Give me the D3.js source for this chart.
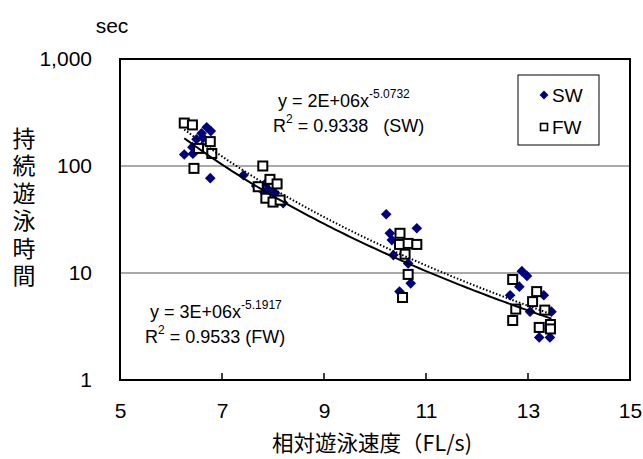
<!DOCTYPE html>
<html>
<head>
<meta charset="utf-8">
<script src="https://cdn.jsdelivr.net/npm/d3@7"></script>
<style>
  body { margin: 0; background: #fff; }
  svg text { font-family: "Liberation Sans", Arial, sans-serif; fill: #000; }
  .cjk { font-family: "Noto Sans CJK JP", "Noto Sans CJK SC", sans-serif; }
</style>
</head>
<body>
<svg id="chart" width="643" height="459"></svg>
<script>
// Relative swimming speed (FL/s) vs. endurance time (sec), SW and FW groups
const swSpeed = [6.26, 6.42, 6.50, 6.60, 6.63, 6.70, 6.78, 6.43, 6.77, 7.42,
                 7.67, 7.81, 7.86, 7.91, 8.04, 8.20,
                 10.22, 10.82, 10.29, 10.33, 10.53, 10.36, 10.65, 10.70, 10.48,
                 12.88, 12.98, 12.83, 12.65, 13.31, 13.04, 13.46, 13.22, 13.22, 13.43];
const swTime  = [128, 150, 178, 202, 183, 230, 212, 130, 77, 82,
                 65, 58, 69, 60, 56, 45,
                 35.4, 26.2, 23.5, 20.3, 18.7, 14.7, 12.3, 8.0, 6.7,
                 10.4, 9.4, 7.45, 6.2, 6.2, 4.35, 4.35, 3.04, 2.5, 2.5];
const fwSpeed = [6.26, 6.42, 6.77, 6.54, 6.80, 6.45, 7.80,
                 7.94, 7.71, 8.08, 7.86, 8.00, 8.14,
                 10.49, 10.48, 10.65, 10.82, 10.59, 10.65, 10.54,
                 12.70, 13.17, 13.09, 12.76, 12.70, 13.33, 13.22, 13.44, 13.44];
const fwTime  = [252, 242, 169, 146, 131, 95, 100,
                 75, 64, 68, 50, 46, 48,
                 23.5, 18.5, 18.9, 18.5, 15.0, 9.7, 5.9,
                 8.7, 6.7, 5.4, 4.6, 3.6, 4.5, 3.1, 3.3, 3.0];

// Power-law trend lines: y = a * x^b
const swFit = { a: 2e6, b: -5.0732 };
const fwFit = { a: 3e6, b: -5.1917 };

const xTicks = [5, 7, 9, 11, 13, 15];
const yTicks = [1, 10, 100, 1000];
const yTickLabels = ["1", "10", "100", "1,000"];

const svg = d3.select("#chart");
const L = 120, R = 630, T = 59, B = 380;

const x = d3.scaleLinear().domain([5, 15]).range([L, R]);
const y = d3.scaleLog().domain([1, 1000]).range([B, T]);

// horizontal gridlines at the inner decades
svg.append("g").selectAll("line")
  .data([10, 100]).join("line")
  .attr("x1", L).attr("x2", R)
  .attr("y1", d => y(d)).attr("y2", d => y(d))
  .attr("stroke", "#555").attr("stroke-width", 1);

// x axis: inward ticks, labels below
const xAxis = d3.axisBottom(x).tickValues(xTicks).tickSize(0).tickPadding(23)
  .tickFormat(d3.format("d"));
const gx = svg.append("g").attr("transform", `translate(0,${B})`).call(xAxis);
gx.select(".domain").remove();
gx.selectAll("text").attr("font-size", 21).attr("font-family", "Liberation Sans, Arial, sans-serif");
svg.append("g").selectAll("line")
  .data(xTicks.slice(1, -1)).join("line")
  .attr("x1", d => x(d)).attr("x2", d => x(d))
  .attr("y1", B).attr("y2", B - 7)
  .attr("stroke", "#000").attr("stroke-width", 1.5);

// y axis labels
const yAxis = d3.axisLeft(y).tickValues(yTicks).tickSize(0).tickPadding(28)
  .tickFormat((d, i) => yTickLabels[i]);
const gy = svg.append("g").attr("transform", `translate(${L},0)`).call(yAxis);
gy.select(".domain").remove();
gy.selectAll("text").attr("font-size", 21).attr("font-family", "Liberation Sans, Arial, sans-serif");

// SW markers: navy diamonds
const dia = d3.symbol().type(d3.symbolDiamond2).size(72);
svg.append("g").selectAll("path")
  .data(d3.zip(swSpeed, swTime)).join("path")
  .attr("d", dia)
  .attr("transform", d => `translate(${x(d[0])},${y(d[1])})`)
  .attr("fill", "#000080");

// FW markers: open squares
svg.append("g").selectAll("rect")
  .data(d3.zip(fwSpeed, fwTime)).join("rect")
  .attr("x", d => x(d[0]) - 4.5).attr("y", d => y(d[1]) - 4.5)
  .attr("width", 9).attr("height", 9)
  .attr("fill", "#fff").attr("stroke", "#000").attr("stroke-width", 2);

// trend lines over each series' speed range
function fitPath(fit, xs) {
  const lo = d3.min(xs), hi = d3.max(xs);
  const pts = d3.range(0, 101).map(i => {
    const v = lo + (hi - lo) * i / 100;
    return [v, fit.a * Math.pow(v, fit.b)];
  });
  return d3.line().x(d => x(d[0])).y(d => y(d[1]))(pts);
}
svg.append("path").attr("d", fitPath(swFit, swSpeed))
  .attr("fill", "none").attr("stroke", "#000").attr("stroke-width", 2);
svg.append("path").attr("d", fitPath(fwFit, fwSpeed))
  .attr("fill", "none").attr("stroke", "#000").attr("stroke-width", 2)
  .attr("stroke-dasharray", "1.5,2");

// plot frame
svg.append("rect").attr("x", L).attr("y", T).attr("width", R - L).attr("height", B - T)
  .attr("fill", "none").attr("stroke", "#000").attr("stroke-width", 2);

// equation labels
function equation(xp, yp, coef, expo, r2, tag) {
  const t1 = svg.append("text").attr("x", xp + 5).attr("y", yp).attr("font-size", 18);
  t1.append("tspan").text(`y = ${coef}x`);
  t1.append("tspan").attr("dy", -9).attr("font-size", 12).text(expo);
  const t2 = svg.append("text").attr("x", xp).attr("y", yp + 25).attr("font-size", 18)
    .attr("xml:space", "preserve");
  t2.append("tspan").text("R");
  t2.append("tspan").attr("dy", -9).attr("font-size", 12).text("2");
  t2.append("tspan").attr("dy", 9).text(` = ${r2}${tag}`);
}
equation(273, 107, "2E+06", swFit.b.toFixed(4), "0.9338", "   (SW)");
equation(145, 318, "3E+06", fwFit.b.toFixed(4), "0.9533", " (FW)");

// legend
const lg = svg.append("g");
lg.append("rect").attr("x", 518).attr("y", 75).attr("width", 81).attr("height", 70)
  .attr("fill", "#fff").attr("stroke", "#000").attr("stroke-width", 1);
lg.append("path").attr("d", d3.symbol().type(d3.symbolDiamond2).size(50))
  .attr("transform", "translate(544,95)").attr("fill", "#000080");
lg.append("text").attr("x", 552).attr("y", 102).attr("font-size", 19).text("SW");
lg.append("rect").attr("x", 540.5).attr("y", 123.5).attr("width", 7).attr("height", 7)
  .attr("fill", "#fff").attr("stroke", "#000").attr("stroke-width", 1.6);
lg.append("text").attr("x", 552).attr("y", 134).attr("font-size", 19).text("FW");

// axis titles
svg.append("text").attr("x", 112).attr("y", 33).attr("text-anchor", "middle")
  .attr("font-size", 21).text("sec");
// vertical y-axis title, set top to bottom
svg.append("text").attr("class", "cjk")
  .attr("x", 24).attr("y", 209)
  .attr("writing-mode", "vertical-rl")
  .attr("text-anchor", "middle")
  .attr("letter-spacing", 4.5)
  .attr("font-size", 23)
  .text("持続遊泳時間");
svg.append("text").attr("class", "cjk").attr("x", 372).attr("y", 451)
  .attr("text-anchor", "middle").attr("font-size", 21.5).text("相対遊泳速度（FL/s)");
</script>
</body>
</html>
